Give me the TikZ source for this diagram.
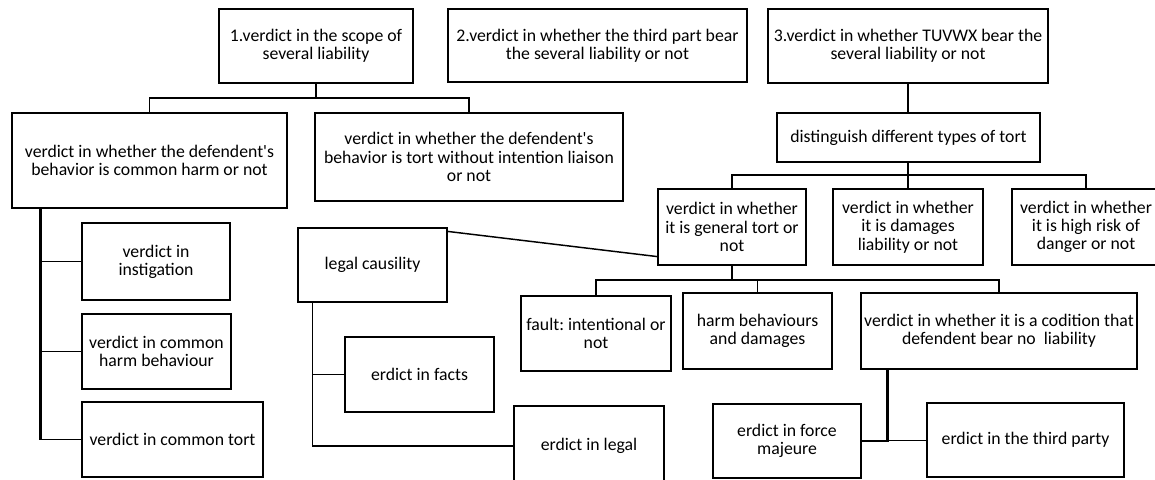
\documentclass[tikz,border=0pt]{standalone}
\usepackage{fontspec}
\setmainfont{Carlito}
\usetikzlibrary{calc,shadows}
\frenchspacing

\tikzset{every picture/.style={line width=0.75pt}}
\tikzset{
  box/.style 2 args={draw, line width=0.9pt, fill=white, align=center, inner sep=0pt,
    minimum width=#1*0.75pt, minimum height=#2*0.75pt,
    font=\fontsize{13.3}{13.7}\selectfont,
    drop shadow={shadow xshift=0.9pt, shadow yshift=-0.9pt, opacity=0.25, fill=black}},
  conn/.style={line width=1.1pt},
  stem/.style={line width=2pt},
  thinconn/.style={line width=0.6pt}
}

\begin{document}
\begin{tikzpicture}[x=0.75pt,y=0.75pt,yscale=-1,xscale=1]
\useasboundingbox (0,0) rectangle (1155,479);

% Text Node
\node[box={194}{74}] (b1) at (316,46) {1.verdict in the scope of\\several liability};
% Text Node
\node[box={299}{73}] (b2) at (597.5,45.5) {2.verdict in whether the third part bear\\the several liability or not};
% Text Node
\node[box={280}{74}] (b3) at (908,46) {3.verdict in whether TUVWX bear the\\several liability or not};
% Text Node
\node[box={275}{95}] (l1) at (149.5,160.5) {verdict in whether the defendent\textquotesingle s\\behavior is common harm or not};
% Text Node
\node[box={308}{88}] (l2) at (469,157) {verdict in whether the defendent\textquotesingle s\\behavior is tort without intention liaison\\or not};
% Text Node
\node[box={263}{49}] (dist) at (908.5,137.5) {distinguish different types of tort};
% Text Node
\node[box={148}{76}] (g1) at (732,227) {verdict in whether\\it is general tort or\\not};
% Text Node
\node[box={150}{76}] (g2) at (908,227) {verdict in whether\\it is damages\\liability or not};
% Text Node
\node[box={148}{76}] (g3) at (1086,227) {verdict in whether\\it is high risk of\\danger or not};
% Text Node
\node[box={148}{77}] (ins) at (156,261.5) {verdict in\\instigation};
% Text Node
\node[box={149}{75}] (chb) at (156.5,351.5) {verdict in common\\harm behaviour};
% Text Node
\node[box={181}{75}] (ct) at (172.5,439.5) {verdict in common tort};
% Text Node
\node[box={149}{74}] (lc) at (372.5,265) {legal causility};
% Text Node
\node[box={149}{75}] (facts) at (419.5,374.5) {erdict in facts};
% Text Node
\node[box={150}{80}] (legal) at (589,446) {erdict in legal};
% Text Node
\node[box={150}{75}] (fault) at (596,333.5) {fault: intentional or\\not};
% Text Node
\node[box={149}{76}] (harm) at (757.5,331) {harm behaviours\\and damages};
% Text Node
\node[box={276}{76}] (cond) at (999,331) {verdict in whether it is a codition that\\defendent bear no\ \ liability};
% Text Node
\node[box={148}{74}] (fm) at (787,441) {erdict in force\\majeure};
% Text Node
\node[box={197}{74}] (tp) at (1025.5,440) {erdict in the third party};

%Straight Lines
\coordinate (j1) at (316,98);
\draw[stem] (b1.south) -- (j1);
\draw[conn] (j1) -| (l1.north);
\draw[conn] (j1) -| (l2.north);
%Straight Lines
\draw[conn] (b3.south) -- (b3.south |- dist.north);
%Straight Lines
\coordinate (j2) at (908,175);
\draw[stem] (dist.south -| j2) -- (j2);
\draw[conn] (j2) -| (g1.north);
\draw[conn] (j2) -- (g2.north);
\draw[conn] (j2) -| (g3.north);
%Straight Lines
\coordinate (j3) at (732,280);
\draw[stem] (g1.south) -- (j3);
\draw[conn] (j3) -| (fault.north);
\draw[conn] (j3) -| (harm.north);
\draw[conn] (j3) -| (cond.north);
%Straight Lines
\coordinate (s1) at ($(l1.south west)+(29,0)$);
\draw[stem] (s1) -- (s1 |- ct.west);
\draw[conn] (s1 |- ins.west) -- (ins.west);
\draw[conn] (s1 |- chb.west) -- (chb.west);
\draw[conn] (s1 |- ct.west) -- (ct.west);
%Straight Lines
\coordinate (s2) at ($(lc.south west)+(15,0)$);
\draw[conn] (s2) |- (legal.west);
\draw[conn] (s2 |- facts.west) -- (facts.west);
%Straight Lines
\draw[conn] ($(lc.north east)+(0,4)$) -- ($(g1.south west)+(0,-9)$);
%Straight Lines
\coordinate (s3) at ($(cond.south west)+(27,0)$);
\draw[stem] (s3) |- (fm.east);
\draw[thinconn] (s3 |- tp.west) -- (tp.west);

\end{tikzpicture}
\end{document}
